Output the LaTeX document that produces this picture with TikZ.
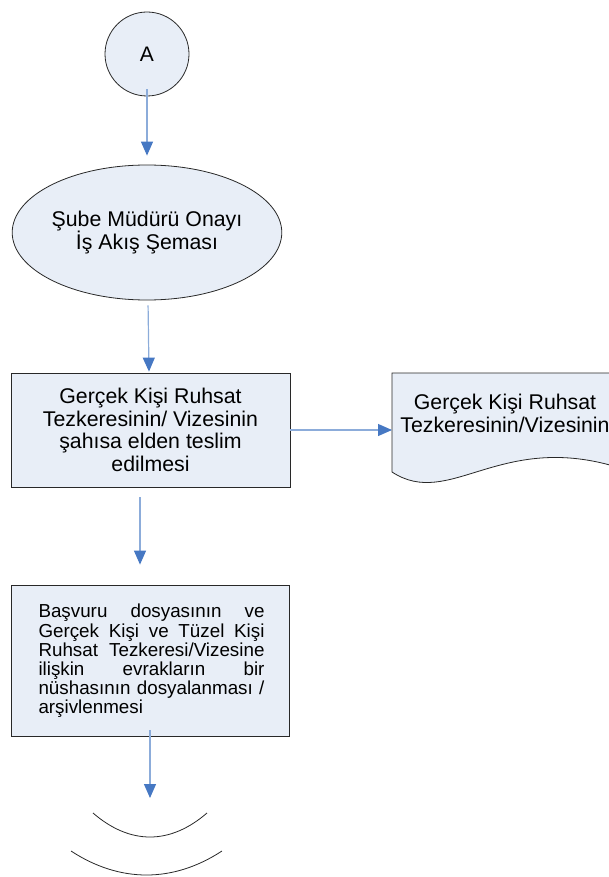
\documentclass[tikz,border=0pt]{standalone}
\usepackage{fontspec}
\setmainfont{Liberation Sans}
\usetikzlibrary{arrows.meta,shapes.geometric}
\definecolor{shapefill}{RGB}{232,238,247}
\definecolor{shapeline}{RGB}{40,40,40}
\definecolor{linec}{RGB}{140,172,218}
\definecolor{headc}{RGB}{70,120,195}
\tikzset{
  shp/.style={draw=shapeline, fill=shapefill, line width=0.8pt},
  conn/.style={draw=linec, line width=1.2pt, -{Triangle[length=14pt,width=12pt,color=headc]}},
  bigtxt/.style={font=\fontsize{21.3}{22.7}\selectfont, align=center},
}
\begin{document}
\begin{tikzpicture}[x=1pt,y=-1pt]
\useasboundingbox (0,0) rectangle (609,877);
\clip (0,0) rectangle (609,877);
% nodes
\node[shp, circle, minimum size=84pt, inner sep=0pt, font=\fontsize{21}{22}\selectfont] (A) at (147,54) {A};
\node[shp, ellipse, minimum width=250pt, minimum height=135pt, inner sep=0pt, bigtxt, font=\fontsize{21.3}{23}\selectfont] (E) at (147,232.5) {Şube Müdürü Onayı\\İş Akış Şeması};
\node[shp, rectangle, minimum width=279pt, minimum height=114pt, inner sep=0pt, bigtxt] (B1) at (150.5,430) {Gerçek Kişi Ruhsat\\Tezkeresinin/ Vizesinin\\şahısa elden teslim\\edilmesi};
\node[shp, rectangle, minimum width=278pt, minimum height=151pt, inner sep=0pt] (B2) at (150,660.5) {};
\node[text width=226pt, align=justify, inner sep=0pt, font=\fontsize{18.8}{19.2}\selectfont] (B2t) at (151.5,661) {Başvuru dosyasının ve\linebreak Gerçek Kişi ve Tüzel Kişi\linebreak Ruhsat Tezkeresi/Vizesine\linebreak ilişkin evrakların bir\linebreak nüshasının dosyalanması /\linebreak arşivlenmesi};
% document shape
\path[shp] (620,468) -- (620,373) -- (392,373) -- (392,472) .. controls (450,510) and (500,430) .. (620,468) -- cycle;
\coordinate (D) at (392,430);
\node[bigtxt, font=\fontsize{21.3}{23}\selectfont, inner sep=0pt] (Dt) at (505,413.5) {Gerçek Kişi Ruhsat\\Tezkeresinin/Vizesinin};
% end arcs
\coordinate (endarrow) at (150,798);
\draw[shapeline, line width=0.8pt] (93,813) .. controls (130,845) and (170,845) .. (207,813);
\draw[shapeline, line width=0.8pt] (71,851) .. controls (120,883) and (173,883) .. (222,851);
% connectors
\draw[conn, shorten <=-7pt, shorten >=9pt] (A.south) -- (E.north);
\draw[conn, shorten <=5pt, shorten >=1pt] ([xshift=1pt]E.south) -- ([xshift=-1.5pt]B1.north);
\draw[conn] (B1.east) -- (D);
\draw[conn, shorten <=10pt, shorten >=20pt] ([xshift=-10.5pt]B1.south) -- ([xshift=-10pt]B2.north);
\draw[conn, shorten <=-6pt] (B2.south) -- (endarrow);
\end{tikzpicture}
\end{document}
